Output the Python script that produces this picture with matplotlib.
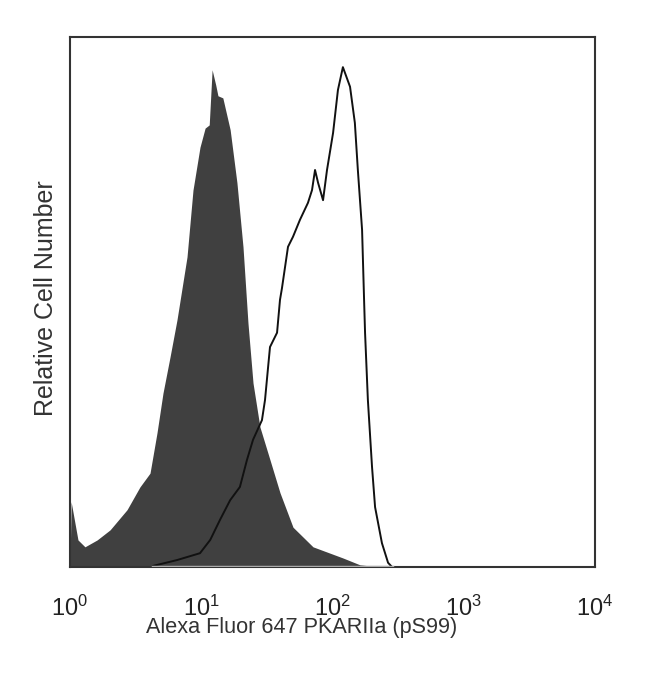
#Flow cytometry overlay: isotype (filled) vs PKARIIa pS99 (open)
import numpy as np
import matplotlib.pyplot as plt

plt.rcParams['font.family'] = ['Liberation Sans', 'DejaVu Sans']
plt.rcParams['mathtext.fontset'] = 'custom'
plt.rcParams['mathtext.rm'] = 'Liberation Sans'
plt.rcParams['mathtext.it'] = 'Liberation Sans'

#filled histogram (control), intensity vs relative count
ctrl_x = [1.0, 1.02, 1.15, 1.30, 1.61, 2.02, 2.72, 3.41, 4.07, 4.60, 5.11, 5.78,
          6.53, 7.79, 8.65, 9.78, 10.7, 11.5, 12.1, 12.9, 13.4, 14.6, 16.6, 18.7,
          20.8, 22.7, 24.8, 28.0, 33.4, 39.8, 50.0, 71.0, 120, 162, 230]
ctrl_y = [0.0, 0.123, 0.051, 0.038, 0.051, 0.070, 0.108, 0.151, 0.177, 0.253, 0.328, 0.396,
          0.466, 0.585, 0.711, 0.792, 0.828, 0.834, 0.938, 0.909, 0.889, 0.885, 0.825, 0.725,
          0.604, 0.460, 0.347, 0.264, 0.202, 0.140, 0.075, 0.038, 0.017, 0.004, 0.0]

#open histogram (stained)
stain_x = [4.29, 6.53, 9.78, 11.7, 13.9, 16.6, 19.7, 22.3, 24.8, 29.0, 30.6, 32.3,
           33.4, 37.8, 39.8, 41.2, 45.8, 50.0, 56.5, 65.0, 69.8, 73.6, 77.6, 84.7,
           90.8, 101, 110, 120, 136, 148, 156, 168, 174, 177, 186, 200, 211, 238, 265, 284]
stain_y = [0.002, 0.013, 0.026, 0.051, 0.089, 0.126, 0.151, 0.202, 0.240, 0.277, 0.315, 0.377,
           0.415, 0.442, 0.504, 0.526, 0.604, 0.623, 0.655, 0.687, 0.711, 0.749, 0.725, 0.692,
           0.749, 0.819, 0.900, 0.943, 0.906, 0.838, 0.749, 0.636, 0.504, 0.442, 0.315, 0.189,
           0.113, 0.045, 0.008, 0.0]

tick_vals = [1, 10, 100, 1000, 10000]
tick_text = ['$10^0$', '$10^1$', '$10^2$', '$10^3$', '$10^4$']

fig = plt.figure(figsize=(6.5, 6.74), dpi=100)
ax = fig.add_axes([0.1077, 0.1588, 0.8077, 0.7864])

ax.fill_between(ctrl_x, ctrl_y, 0, color='#404040', lw=0)
ax.plot(stain_x, stain_y, color='#111111', lw=1.4)
ax.plot([stain_x[0], stain_x[-1]], [0.0, 0.0], color='#aaaaaa', lw=2.5, zorder=5)

ax.set_xscale('log')
ax.set_xlim(1, 10000)
ax.set_ylim(0, 1)
ax.set_xticks([])
ax.set_yticks([])
ax.minorticks_off()
for s in ax.spines.values():
    s.set_color('#333333')
    s.set_linewidth(1.5)

#tick labels drawn by hand (no tick marks in the original)
tr = ax.get_xaxis_transform()
for v, t in zip(tick_vals, tick_text):
    ax.text(v, -0.0925, t, transform=tr, ha='center', va='baseline', fontsize=17, color='#222222')

ax.text(0.441, -0.1245, 'Alexa Fluor 647 PKARIIa (pS99)', transform=ax.transAxes,
        ha='center', va='baseline', fontsize=15.6, color='#333333')
ax.text(-0.0457, 0.507, 'Relative Cell Number', transform=ax.transAxes, rotation=90,
        ha='center', va='center', fontsize=18, color='#333333')

plt.savefig('out.png', dpi=100)
